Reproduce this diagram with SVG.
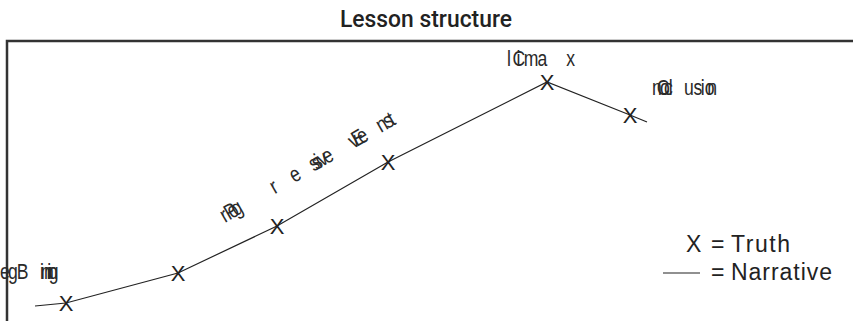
<svg xmlns="http://www.w3.org/2000/svg" width="853" height="321" viewBox="0 0 853 321">
<style>
.lbl{font-family:"Liberation Sans",Arial,sans-serif;font-size:22px;fill:#2a2a2a}
.mk{font-family:"Liberation Sans",Arial,sans-serif;font-size:22px;fill:#222;text-anchor:middle}
.lg{font-family:"Liberation Sans",Arial,sans-serif;font-size:23px;fill:#222}
</style>
<rect width="853" height="321" fill="#fff"/>
<text x="426" y="27" text-anchor="middle" textLength="172" lengthAdjust="spacingAndGlyphs" style="font-family:Roboto,'Liberation Sans',sans-serif;font-size:23px;font-weight:500;fill:#222">Lesson structure</text>
<path d="M7 321V41H853" fill="none" stroke="#333" stroke-width="2.5"/>
<g id="connectors">
<polyline points="35,306 66,303 178,273 277,226 388,162 547,82 630,115 647,122" fill="none" stroke="#222" stroke-width="1.2"/>
</g>
<g id="truth-1"><text class="mk" x="66" y="311">X</text></g>
<g id="truth-2"><text class="mk" x="178" y="281">X</text></g>
<g id="truth-3"><text class="mk" x="277" y="234">X</text></g>
<g id="truth-4"><text class="mk" x="388" y="170">X</text></g>
<g id="truth-5"><text class="mk" x="547" y="90">X</text></g>
<g id="truth-6"><text class="mk" x="630" y="123">X</text></g>
<g id="beginning"><text class="lbl" transform="translate(0,279) scale(0.8,1)" x="21 0 10 50 51 55 59 60 61" y="0">Beginning</text></g>
<g id="progressive"><text class="lbl" transform="translate(225,223) rotate(-30) scale(0.8,1)" x="6 0 10 16 72 100 128 132 137 140 147 162 190 185 197 225 242 235" y="0">Progressive Events</text></g>
<g id="climax"><text class="lbl" transform="translate(507,66) scale(0.8,1)" x="7 0 12 21 38 74" y="0">Climax</text></g>
<g id="conclusion"><text class="lbl" transform="translate(652,95) scale(0.8,1)" x="6 10 0 15 21 40 52 61 66 69" y="0">Conclusion</text></g>
<g id="legend">
<text class="lg" x="686" y="252">X</text>
<text class="lg" x="711" y="252">=</text>
<text class="lg" x="731" y="252" textLength="59">Truth</text>
<line x1="663" y1="273" x2="700" y2="273" stroke="#222" stroke-width="1.2"/>
<text class="lg" x="711" y="280">=</text>
<text class="lg" x="731" y="280" textLength="101">Narrative</text>
</g>
</svg>
